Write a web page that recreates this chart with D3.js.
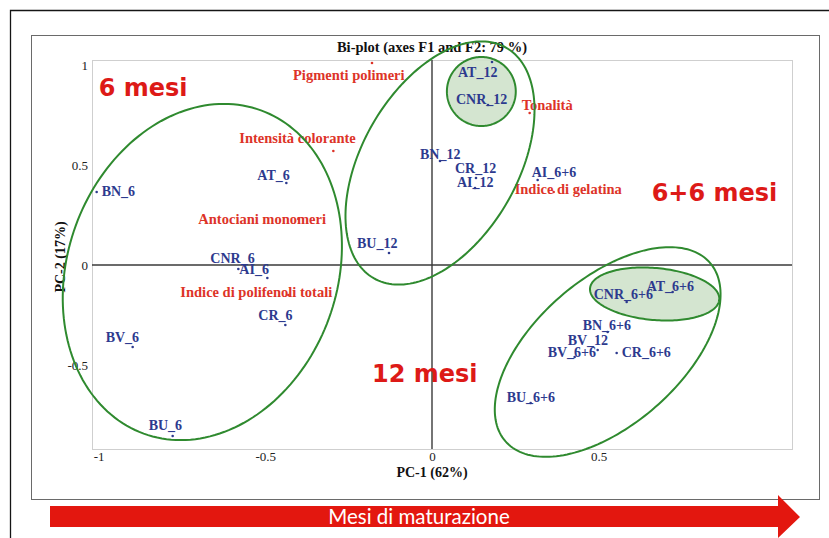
<!DOCTYPE html>
<html>
<head>
<meta charset="utf-8">
<script src="https://cdn.jsdelivr.net/npm/d3@7/dist/d3.min.js"></script>
<style>
  html, body { margin: 0; padding: 0; background: #ffffff; }
  svg { display: block; }
</style>
</head>
<body>
<svg id="chart" width="829" height="538"></svg>
<script>
// ---- Data ---------------------------------------------------------------
const chartTitle = "Bi-plot (axes F1 and F2: 79 %)";
const xAxisTitle = "PC-1 (62%)";
const yAxisTitle = "PC-2 (17%)";
const xTicks = [-1, -0.5, 0, 0.5];
const yTicks = [-0.5, 0, 0.5, 1];

// Observations (wine samples) – scores on PC-1 / PC-2
const obsNames = ["BN_6", "AT_6", "CNR_6", "AI_6", "CR_6", "BV_6", "BU_6",
  "AT_12", "CNR_12", "BN_12", "CR_12", "AI_12", "BU_12", "BV_12",
  "AI_6+6", "AT_6+6", "CNR_6+6", "BN_6+6", "BV_6+6", "CR_6+6", "BU_6+6"];
const obsX = [-1.006, -0.437, -0.581, -0.494, -0.440, -0.898, -0.778,
  0.180, 0.168, 0.024, 0.132, 0.129, -0.129, 0.497,
  0.317, 0.722, 0.584, 0.527, 0.428, 0.554, 0.296];
const obsY = [0.365, 0.410, -0.020, -0.065, -0.300, -0.410, -0.855,
  1.015, 0.800, 0.520, 0.435, 0.385, 0.060, -0.425,
  0.425, -0.135, -0.185, -0.335, -0.460, -0.440, -0.690];

// Variables (colour parameters) – loadings on PC-1 / PC-2
const varNames = ["Pigmenti polimeri", "Intensità colorante", "Antociani monomeri",
  "Indice di polifenoli totali", "Tonalità", "Indice di gelatina"];
const varX = [-0.180, -0.296, -0.401, -0.431, 0.293, 0.365];
const varY = [1.010, 0.570, 0.230, -0.150, 0.760, 0.365];

// Maturation groups and their sub-clusters: centre + two semi-axis vectors (PC units)
const clusterCx = [-0.689, 0.024, 0.148, 0.527, 0.668];
const clusterCy = [-0.035, 0.510, 0.8675, -0.435, -0.145];
const clusterU = [[0.380, -0.231], [0.202, -0.195], [0.1033, 0], [0.307, 0.446], [0.1939, -0.0284]];
const clusterV = [[-0.176, -0.808], [0.199, 0.576], [0, 0.1725], [0.143, -0.2755], [-0.0068, -0.1295]];
const clusterCore = [false, false, true, false, true];

// Group captions, anchored in PC space
const groupNames = ["6 mesi", "12 mesi", "6+6 mesi"];
const groupX = [-1.0, -0.18, 0.659];
const groupY = [0.845, -0.585, 0.32];

const arrowCaption = "Mesi di maturazione";

// ---- Label placement (pixel offsets from each marker) ---------------------
const obsLabelOffset = {
  "BN_6": [5, 4], "AT_6": [-29, -3], "CNR_6": [-28, -6], "AI_6": [-28, -4],
  "CR_6": [-27, -5], "BV_6": [-27, -5], "BU_6": [-24, -6],
  "AT_12": [-34, 15], "CNR_12": [-32, -1], "BN_12": [-20, -2], "CR_12": [-21, -5],
  "AI_12": [-18, -1], "BU_12": [-32, -5], "BV_12": [-30, -5],
  "AI_6+6": [-6, -3], "AT_6+6": [-26, -1], "CNR_6+6": [-33, -3], "BN_6+6": [-25, -2],
  "BV_6+6": [-27, 0], "CR_6+6": [5, 4], "BU_6+6": [-24, -1]
};
const varLabelOffset = {
  "Pigmenti polimeri": [-79, 17], "Intensità colorante": [-94, -8],
  "Antociani monomeri": [-100, 5], "Indice di polifenoli totali": [-108, 2],
  "Tonalità": [-8, -3], "Indice di gelatina": [-39, 2]
};

// ---- Layout -------------------------------------------------------------
const W = 829, H = 538;
const plot = { left: 92, top: 60, right: 792, bottom: 449 };
const blue = "#2d3a8e", red = "#dd3328", bigRed = "#dd1a17", green = "#2f8a2f";
const serif = "'Liberation Serif', 'Times New Roman', serif";

const svg = d3.select("#chart");

const x = d3.scaleLinear().domain([-1.02, 1.08]).range([plot.left, plot.right]);
const y = d3.scaleLinear().domain([-0.92, 1.025]).range([plot.bottom, plot.top]);

svg.append("rect").attr("width", W).attr("height", H).attr("fill", "#fff");

// outer frame (opens to the right and bottom)
svg.append("path").attr("d", `M10.5,${H} V10.5 H${W}`)
  .attr("fill", "none").attr("stroke", "#151515").attr("stroke-width", 1.3);

// chart box
svg.append("rect").attr("x", 31.5).attr("y", 35.5).attr("width", 788).attr("height", 464)
  .attr("fill", "none").attr("stroke", "#6a6a6a").attr("stroke-width", 1);

// plot area
svg.append("rect").attr("x", plot.left + 0.5).attr("y", plot.top + 0.5)
  .attr("width", plot.right - plot.left).attr("height", plot.bottom - plot.top)
  .attr("fill", "none").attr("stroke", "#cfcfcf").attr("stroke-width", 1);

// axes through the origin
svg.append("line").attr("x1", plot.left).attr("x2", plot.right)
  .attr("y1", y(0)).attr("y2", y(0)).attr("stroke", "#3a3a3a").attr("stroke-width", 1.4);
svg.append("line").attr("x1", x(0)).attr("x2", x(0))
  .attr("y1", plot.top).attr("y2", plot.bottom).attr("stroke", "#3a3a3a").attr("stroke-width", 1.4);

// tick labels
const xAxis = d3.axisBottom(x).tickValues(xTicks).tickSize(0).tickPadding(0)
  .tickFormat(d => d === 0 ? "0" : String(d));
const gx = svg.append("g").attr("transform", `translate(0,${plot.bottom + 1})`).call(xAxis);
gx.select(".domain").remove();
gx.selectAll("text").attr("font-family", serif).attr("font-size", 13).attr("fill", "#222")
  .attr("dy", "0.82em");

const yAxis = d3.axisLeft(y).tickValues(yTicks).tickSize(0).tickPadding(0)
  .tickFormat(d => String(d));
const gy = svg.append("g").attr("transform", `translate(${plot.left - 4},0)`).call(yAxis);
gy.select(".domain").remove();
gy.selectAll("text").attr("font-family", serif).attr("font-size", 13).attr("fill", "#222");

// titles
svg.append("text").attr("x", 432).attr("y", 52).attr("text-anchor", "middle")
  .attr("font-family", serif).attr("font-weight", "bold").attr("font-size", 14.5)
  .attr("fill", "#111").text(chartTitle);
svg.append("text").attr("x", 432).attr("y", 477).attr("text-anchor", "middle")
  .attr("font-family", serif).attr("font-weight", "bold").attr("font-size", 14)
  .attr("fill", "#111").text(xAxisTitle);
svg.append("text").attr("transform", "translate(65,257) rotate(-90)").attr("text-anchor", "middle")
  .attr("font-family", serif).attr("font-weight", "bold").attr("font-size", 14)
  .attr("fill", "#111").text(yAxisTitle);

// cluster outlines as parametric ellipses in PC space
const clusters = clusterCx.map((cx, i) => ({
  cx, cy: clusterCy[i], u: clusterU[i], v: clusterV[i], core: clusterCore[i]
}));
const ellipsePath = c => {
  const pts = d3.range(0, 2 * Math.PI, Math.PI / 90).map(t => [
    x(c.cx + c.u[0] * Math.cos(t) + c.v[0] * Math.sin(t)),
    y(c.cy + c.u[1] * Math.cos(t) + c.v[1] * Math.sin(t))
  ]);
  return d3.line().curve(d3.curveLinearClosed)(pts);
};

svg.append("g").selectAll("path").data(clusters.filter(c => c.core)).join("path")
  .attr("d", ellipsePath).attr("fill", "#cfe2cb").attr("fill-opacity", 0.9).attr("stroke", "none");

// observations
const obs = obsNames.map((n, i) => ({ name: n, x: obsX[i], y: obsY[i] }));
const gObs = svg.append("g");
gObs.selectAll("circle").data(obs).join("circle")
  .attr("cx", d => x(d.x)).attr("cy", d => y(d.y)).attr("r", 1.3).attr("fill", blue);
gObs.selectAll("text").data(obs).join("text")
  .attr("x", d => x(d.x) + obsLabelOffset[d.name][0])
  .attr("y", d => y(d.y) + obsLabelOffset[d.name][1])
  .attr("font-family", serif).attr("font-weight", "bold").attr("font-size", 14)
  .attr("fill", blue).text(d => d.name);

// variables
const vars = varNames.map((n, i) => ({ name: n, x: varX[i], y: varY[i] }));
const gVar = svg.append("g");
gVar.selectAll("circle").data(vars).join("circle")
  .attr("cx", d => x(d.x)).attr("cy", d => y(d.y)).attr("r", 1.3).attr("fill", red);
gVar.selectAll("text").data(vars).join("text")
  .attr("x", d => x(d.x) + varLabelOffset[d.name][0])
  .attr("y", d => y(d.y) + varLabelOffset[d.name][1])
  .attr("font-family", serif).attr("font-weight", "bold").attr("font-size", 14.5)
  .attr("fill", red).text(d => d.name);

// group captions
svg.append("g").selectAll("text").data(groupNames).join("text")
  .attr("x", (d, i) => x(groupX[i])).attr("y", (d, i) => y(groupY[i]))
  .attr("font-family", "'DejaVu Sans', Verdana, sans-serif").attr("font-weight", "bold")
  .attr("font-size", 24).attr("fill", bigRed).text(d => d);

// cluster outlines on top
svg.append("g").selectAll("path").data(clusters).join("path")
  .attr("d", ellipsePath).attr("fill", "none").attr("stroke", green).attr("stroke-width", 2);

// maturation arrow
const arrow = svg.append("g");
arrow.append("path")
  .attr("d", "M50,506 H778 V495 L800,517 L778,538 V527 H50 Z")
  .attr("fill", "#e3170f");
arrow.append("text").attr("x", 419).attr("y", 524).attr("text-anchor", "middle")
  .attr("font-family", "Lato, 'Open Sans', sans-serif").attr("font-size", 20.5)
  .attr("fill", "#ffffff").text(arrowCaption);
</script>
</body>
</html>
